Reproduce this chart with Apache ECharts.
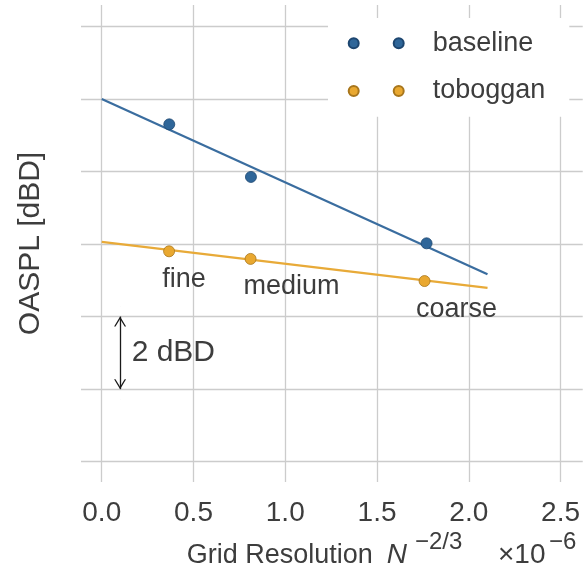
<!DOCTYPE html>
<html><head><meta charset="utf-8">
<script src="https://cdn.jsdelivr.net/npm/echarts@6/dist/echarts.min.js"></script>
<style>html,body{margin:0;padding:0;background:#fff}#c{width:583px;height:569px}</style>
</head><body><div id="c"></div>
<script>
// ---- data ----
const xTicks = [0.0, 0.5, 1.0, 1.5, 2.0, 2.5];
const yGrid = [0, 2, 4, 6, 8, 10, 12];
const baselineX = [0.368, 0.813, 1.770];
const baselineY = [9.30, 7.85, 6.02];
const tobogganX = [0.367, 0.811, 1.759];
const tobogganY = [5.80, 5.59, 4.98];
const gridNames = ['fine', 'medium', 'coarse'];
const fitX = [0, 2.102];
const baselineFit = [10.0, 5.17];
const tobogganFit = [6.06, 4.79];
const scaleBarY = [4, 2];
const scaleBarX = 0.1;
const scaleBarText = '2 dBD';
const scaleBarTextPos = [0.163, 3.0];

// ---- style ----
const FONT = 'Liberation Sans';
const TXT = '#3d3d3d';
const BLUE = '#2f6699', BLUE_LINE = '#3a6d9f', BLUE_EDGE = '#1d4670';
const ORANGE = '#e9a830', ORANGE_LINE = '#e8aa38', ORANGE_EDGE = '#a8761c';
const labelOffsets = [[15, 28.6], [41, 27.6], [32, 29]];
const twoDots = 'path://M0,5 A5,5 0 1,1 10,5 A5,5 0 1,1 0,5 Z M45,5 A5,5 0 1,1 55,5 A5,5 0 1,1 45,5 Z';
// open chevron with its tip at the centre of the symbol box
const chevron = 'path://M0,10 L5,0 L10,10 L8.8,10 L5,2.4 L1.2,10 Z M4.95,-10 L5.05,-10 L5,-9.95 Z';

const pairs = (xs, ys) => xs.map((x, i) => [x, ys[i]]);

const chart = echarts.init(document.getElementById('c'), null, {renderer: 'canvas'});
const option = {
  animation: false,
  backgroundColor: '#ffffff',
  textStyle: {fontFamily: FONT, color: TXT},
  grid: {left: 81, right: 0, top: 5, bottom: 87, containLabel: false},
  xAxis: {
    type: 'value', min: -0.113, max: 2.621,
    axisLine: {show: false},
    axisTick: {show: false, customValues: xTicks},
    axisLabel: {customValues: xTicks, formatter: v => v.toFixed(1), fontSize: 28, color: TXT, margin: 17, fontFamily: FONT},
    splitLine: {show: true, lineStyle: {color: '#cccccc', width: 1.3}}
  },
  yAxis: {
    type: 'value', min: -0.56, max: 12.59,
    name: 'OASPL [dBD]', nameLocation: 'middle', nameGap: 35,
    nameTextStyle: {fontSize: 30, color: TXT, fontFamily: FONT},
    axisLine: {show: false},
    axisTick: {show: false, customValues: yGrid},
    axisLabel: {show: false, customValues: yGrid},
    splitLine: {show: true, lineStyle: {color: '#cccccc', width: 1.3}}
  },
  legend: {
    left: 328, top: 18, orient: 'vertical',
    padding: [10.3, 24, 10.7, 19.7],
    itemGap: 17.7, itemWidth: 55, itemHeight: 10,
    icon: twoDots,
    backgroundColor: '#ffffff', borderRadius: 4,
    selectedMode: false,
    formatter: name => '{g|}{n|' + name + '}',
    textStyle: {
      fontSize: 27, lineHeight: 30, color: TXT, fontFamily: FONT,
      rich: {g: {width: 24}, n: {fontSize: 27, lineHeight: 30, color: TXT, fontFamily: FONT}}
    },
    data: ['baseline', 'toboggan']
  },
  series: [
    {
      name: 'baseline fit', type: 'line', data: pairs(fitX, baselineFit),
      symbol: 'none', lineStyle: {color: BLUE_LINE, width: 2.2}, z: 2, silent: true
    },
    {
      name: 'toboggan fit', type: 'line', data: pairs(fitX, tobogganFit),
      symbol: 'none', lineStyle: {color: ORANGE_LINE, width: 2.2}, z: 2, silent: true,
      markLine: {
        silent: true, symbol: [chevron, chevron], symbolSize: [12, 20],
        lineStyle: {color: '#1a1a1a', width: 1.3, type: 'solid'},
        label: {show: false},
        data: [[{coord: [scaleBarX, scaleBarY[0]]}, {coord: [scaleBarX, scaleBarY[1]]}]]
      }
    },
    {
      name: 'baseline', type: 'scatter', data: pairs(baselineX, baselineY),
      symbolSize: 11, itemStyle: {color: BLUE, borderColor: BLUE_EDGE, borderWidth: 0.8, opacity: 1}, z: 3
    },
    {
      name: 'toboggan', type: 'scatter',
      data: tobogganX.map((x, i) => ({
        value: [x, tobogganY[i]], name: gridNames[i],
        label: {offset: labelOffsets[i]}
      })),
      symbolSize: 11, itemStyle: {color: ORANGE, borderColor: ORANGE_EDGE, borderWidth: 0.8, opacity: 1}, z: 3,
      label: {show: true, position: 'inside', formatter: p => p.name, fontSize: 27, color: TXT, fontFamily: FONT}
    }
  ]
};
chart.setOption(option);

const tp = chart.convertToPixel({gridIndex: 0}, scaleBarTextPos);
chart.setOption({
  graphic: [
    {type: 'text', x: tp[0], y: tp[1], style: {text: scaleBarText, font: '30px "' + FONT + '"', fill: TXT, align: 'left', verticalAlign: 'middle'}},
    {type: 'group', children: [
      {type: 'text', x: 186.7, y: 555.6, style: {text: 'Grid Resolution', font: '27px "' + FONT + '"', fill: TXT, align: 'left', verticalAlign: 'middle'}},
      {type: 'text', x: 386.7, y: 555.6, style: {text: 'N', font: 'italic 28px "' + FONT + '"', fill: TXT, align: 'left', verticalAlign: 'middle'}},
      {type: 'text', x: 415, y: 542.2, style: {text: '−2/3', font: '24px "' + FONT + '"', fill: TXT, align: 'left', verticalAlign: 'middle'}},
      {type: 'text', x: 498, y: 555.6, style: {text: '×10', font: '28px "' + FONT + '"', fill: TXT, align: 'left', verticalAlign: 'middle'}},
      {type: 'text', x: 549, y: 542.2, style: {text: '−6', font: '24px "' + FONT + '"', fill: TXT, align: 'left', verticalAlign: 'middle'}}
    ]}
  ]
});
</script>
</body></html>
